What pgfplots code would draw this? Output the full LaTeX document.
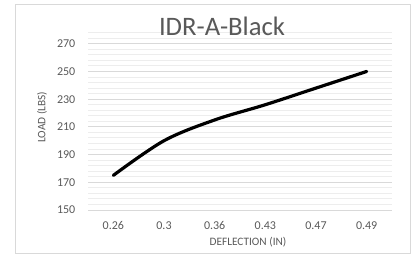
\documentclass[border=0pt]{standalone}
\usepackage{pgfplots}
\pgfplotsset{compat=1.18}
\usepackage{fontspec}
\setmainfont{Carlito}
\definecolor{txt}{HTML}{595959}
\definecolor{majgrid}{HTML}{D9D9D9}
\definecolor{mingrid}{HTML}{EDEDED}
\begin{document}
\begin{tikzpicture}
\begin{axis}[
  at={(66pt,33.75pt)}, anchor=south west,
  scale only axis, width=228pt, height=133pt,
  xmin=-0.5, xmax=5.5, ymin=150, ymax=278,
  xtick={0,1,2,3,4,5},
  xticklabels={0.26,0.3,0.36,0.43,0.47,0.49},
  ytick={150,170,190,210,230,250,270},
  minor ytick={154,158,162,166,174,178,182,186,194,198,202,206,214,218,222,226,234,238,242,246,254,258,262,266,274,278},
  ymajorgrids, yminorgrids,
  major grid style={majgrid, line width=0.75pt},
  minor grid style={mingrid, line width=0.75pt},
  axis line style={draw=none},
  tick style={draw=none},
  ticklabel style={txt, font=\fontsize{9}{11}\selectfont},
  yticklabel style={xshift=-6pt},
  xticklabel style={yshift=-5pt},
  /pgf/number format/assume math mode=true,
  xlabel={DEFLECTION (IN)}, ylabel={LOAD (LBS)},
  label style={txt, font=\fontsize{8.5}{10}\selectfont},
  xlabel style={at={(rel axis cs:0.5,0)}, anchor=center, yshift=-24pt, xshift=6pt},
  ylabel style={at={(rel axis cs:0,0.5)}, anchor=center, yshift=34.5pt, xshift=3pt},
  clip=false,
]
\draw[majgrid, line width=0.75pt] (axis cs:-0.5,150) -- (axis cs:5.5,150);
\addplot[black, line width=2.4pt, smooth, tension=0.55, line cap=round] coordinates {
  (0,175) (1,200) (2,215) (3,226) (4,238) (5,250)
};
\end{axis}
\begin{scope}[x=0.75pt,y=0.75pt]
\draw[majgrid, line width=0.75pt] (15,2) rectangle (410,251);
\node[txt, font=\fontsize{20}{24}\selectfont] at (222,229) {IDR-A-Black};
\pgfresetboundingbox
\path[use as bounding box] (0,0) rectangle (414,255);
\end{scope}
\end{tikzpicture}
\end{document}
